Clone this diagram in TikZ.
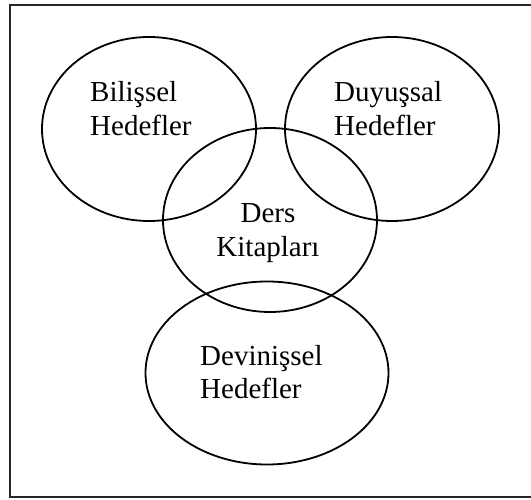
\documentclass[tikz,border=0pt]{standalone}
\usepackage{fontspec}
\setmainfont{Liberation Serif}
\usetikzlibrary{shapes.geometric}

\tikzset{
	kume/.style={shape=ellipse, draw=black, line width=1.8pt, inner sep=0pt},
	etiket/.style={inner sep=0pt, font=\fontsize{29}{34}\selectfont}
}

\begin{document}
\begin{tikzpicture}[x=1pt, y=-1pt]
	
	\useasboundingbox (0, 0) rectangle (531, 500);
	\draw[line width=2.4pt, draw=black!85] (10, 5) rectangle (560, 497);
	
	\node[kume, minimum width=214pt, minimum height=184pt] (bilissel) at (149, 129) {};
	\node[kume, minimum width=214pt, minimum height=184pt] (duyussal) at (392, 129) {};
	\node[kume, minimum width=214pt, minimum height=184pt] (ders) at (270, 220) {};
	\node[kume, minimum width=243pt, minimum height=183pt] (devinissel) at (267, 373) {};
	
	\node[etiket, align=left, anchor=base west] (t1) at (90, 136)  {Bilişsel\\Hedefler};
	\node[etiket, align=left, anchor=base west] (t2) at (334, 136) {Duyuşsal\\Hedefler};
	\node[etiket, align=center, anchor=base]    (t3) at (268, 257) {Ders\\Kitapları};
	\node[etiket, align=left, anchor=base west] (t4) at (200, 399) {Devinişsel\\Hedefler};
	
\end{tikzpicture}
\end{document}
